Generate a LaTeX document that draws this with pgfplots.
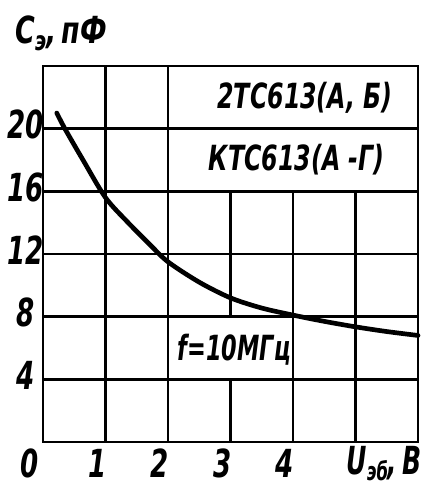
\documentclass[border=0pt]{standalone}
\usepackage{fontspec}
\setmainfont{DejaVu Sans Condensed}
\usepackage{graphicx}
\usepackage{pgfplots}
\pgfplotsset{compat=1.18}
\usetikzlibrary{calc}
\newcommand\g[2][0.75]{\scalebox{#1}[1]{\bfseries\itshape #2}}
\begin{document}
\begin{tikzpicture}
\begin{axis}[
  scale only axis, width=281.25pt, height=282pt,
  xmin=0, xmax=6, ymin=0, ymax=24,
  axis line style={line width=2.2pt},
  xtick={1,2,3,4}, xticklabels={\g{1},\g{2},\g{3},\g{4}},
  extra x ticks={0}, extra x tick labels={\g{0}},
  extra x tick style={xticklabel style={xshift=-4pt}},
  ytick={4,8,12,16,20}, yticklabels={\g{4},\g{8},\g{12},\g{16},\g{20}},
  major tick length=0pt,
  xticklabel style={anchor=center, yshift=-16pt, xshift=-6pt, font=\fontsize{29}{31}\selectfont},
  yticklabel style={anchor=center, xshift=-13pt, yshift=3pt, font=\fontsize{29}{31}\selectfont},
  clip=false,
]
\tikzset{gl/.style={line width=2pt, black}}
% vertical grid lines
\draw[gl] (1,0) -- (1,24);
\draw[gl] (2,0) -- (2,24);
\draw[gl] (3,0) -- (3,4);
\draw[gl] (3,8) -- (3,16);
\draw[gl] (4,0) -- (4,16);
\draw[gl] (5,0) -- (5,16);
% horizontal grid lines
\draw[gl] (0,4) -- (6,4);
\draw[gl] (0,8) -- (6,8);
\draw[gl] (0,12) -- (6,12);
\draw[gl] (0,16) -- (6,16);
\draw[gl] (0,20) -- (6,20);
\addplot[line width=3.5pt, smooth, line cap=round] coordinates {
 (0.22,21.0) (0.35,20.0) (0.64,18.0) (1,15.6) (1.35,14.05) (1.71,12.6)
 (2,11.5) (2.5,10.2) (3,9.2) (3.5,8.55) (4,8.1) (4.5,7.7) (5,7.35)
 (5.5,7.05) (6,6.8)};
\node[font=\fontsize{26}{28}\selectfont] at (4.19,22.0) {\g[0.76]{2ТС613(А, Б)}};
\node[font=\fontsize{26}{28}\selectfont] at (4.06,18.0) {\g[0.76]{КТС613(А -Г)}};
\node[font=\fontsize{26}{28}\selectfont] at (3.06,5.9) {\g[0.72]{f=10МГц}};
\node[anchor=west, font=\fontsize{28}{30}\selectfont] at (-0.52,26.1) {\g[0.8]{C\raisebox{-0.35ex}{\fontsize{20}{22}\selectfont э},\,пФ}};
\node[anchor=west, font=\fontsize{29}{31}\selectfont] at (4.78,-1.38) {\g[0.72]{U\raisebox{-0.28ex}{\fontsize{19}{21}\selectfont эб},\,B}};
\end{axis}
\pgfresetboundingbox
\path[use as bounding box] ($(current axis.south west)+(-32.25pt,-33.75pt)$) rectangle ($(current axis.north east)+(3pt,49.5pt)$);
\end{tikzpicture}
\end{document}
